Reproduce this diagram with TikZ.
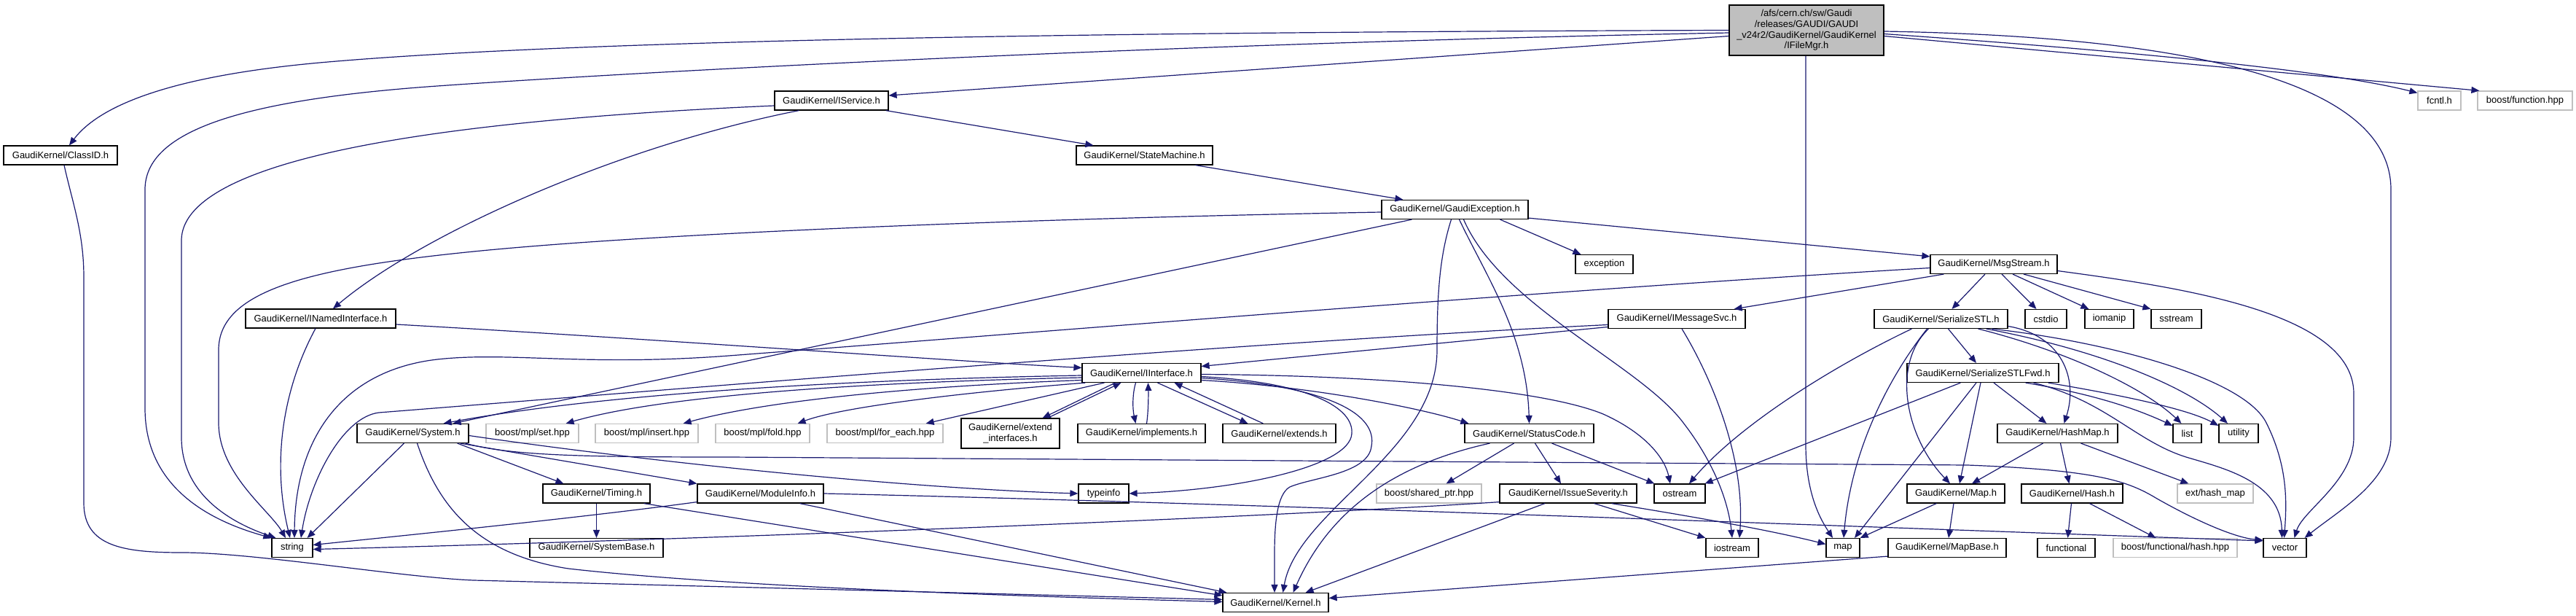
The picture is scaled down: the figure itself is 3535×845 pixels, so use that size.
\documentclass[tikz,border=0pt]{standalone}
\usepackage{fontspec}
\setmainfont{Liberation Sans}
\usetikzlibrary{arrows.meta,calc}
\definecolor{edgecol}{HTML}{191970}
\definecolor{graycol}{HTML}{BFBFBF}
\newcommand\gkfont{\fontsize{6.5pt}{7.35pt}\selectfont}
\begin{document}
\begin{tikzpicture}[x=0.5pt,y=-0.5pt,
  box/.style={draw=black, fill=white, line width=0.6pt, inner sep=0pt, minimum height=13pt, font=\gkfont, align=center},
  gbox/.style={box, draw=graycol},
  bw/.style={minimum width=#1*0.5pt},
  edge/.style={draw=edgecol, line width=0.6pt, -{Triangle[length=5.5pt,width=4.5pt]}}]
\fill[white] (0,0) rectangle (3535,845);
\useasboundingbox (0,0) rectangle (3535,845);
% nodes
\node[box,bw=212,minimum height=34.5pt,fill=graycol] (top) at (2479,41.5) {/afs/cern.ch/sw/Gaudi\\/releases/GAUDI/GAUDI\\\_v24r2/GaudiKernel/GaudiKernel\\/IFileMgr.h};
\node[box,bw=156] (classid) at (83,213) {GaudiKernel/ClassID.h};
\node[box,bw=156] (iservice) at (1141,138) {GaudiKernel/IService.h};
\node[box,bw=187] (statem) at (1570.5,213) {GaudiKernel/StateMachine.h};
\node[box,bw=201] (gexc) at (1996.5,287.5) {GaudiKernel/GaudiException.h};
\node[box,bw=79] (exc) at (2201.5,362.5) {exception};
\node[box,bw=174] (msgs) at (2736,362.5) {GaudiKernel/MsgStream.h};
\node[box,bw=206] (inamed) at (440,437) {GaudiKernel/INamedInterface.h};
\node[box,bw=188] (imsg) at (2301,437.5) {GaudiKernel/IMessageSvc.h};
\node[box,bw=183] (sstl) at (2663.5,437.5) {GaudiKernel/SerializeSTL.h};
\node[box,bw=57] (cstdio) at (2807.5,437.5) {cstdio};
\node[box,bw=67] (iomanip) at (2894.5,437.5) {iomanip};
\node[box,bw=69] (sstream) at (2986.5,437.5) {sstream};
\node[box,bw=163] (iintf) at (1566.5,511.5) {GaudiKernel/IInterface.h};
\node[box,bw=208] (sfwd) at (2721,511.5) {GaudiKernel/SerializeSTLFwd.h};
\node[box,bw=153] (system) at (566.5,594.5) {GaudiKernel/System.h};
\node[gbox,bw=127] (mplset) at (730.5,594.5) {boost/mpl/set.hpp};
\node[gbox,bw=141] (mplins) at (887.5,594.5) {boost/mpl/insert.hpp};
\node[gbox,bw=129] (mplfold) at (1046.5,594.5) {boost/mpl/fold.hpp};
\node[gbox,bw=159] (mplfe) at (1214.5,594.5) {boost/mpl/for\_each.hpp};
\node[box,bw=135,minimum height=20.5pt] (extif) at (1386.5,594.5) {GaudiKernel/extend\\\_interfaces.h};
\node[box,bw=175] (impl) at (1566.5,594.5) {GaudiKernel/implements.h};
\node[box,bw=155] (extends) at (1755.5,594.5) {GaudiKernel/extends.h};
\node[box,bw=177] (stcode) at (2098.5,594.5) {GaudiKernel/StatusCode.h};
\node[box,bw=165] (hashmap) at (2823.5,594.5) {GaudiKernel/HashMap.h};
\node[box,bw=39] (list) at (3001.5,594.5) {list};
\node[box,bw=54] (utility) at (3072,594.5) {utility};
\node[box,bw=147] (timing) at (818.5,677) {GaudiKernel/Timing.h};
\node[box,bw=173] (modinfo) at (1043.5,677) {GaudiKernel/ModuleInfo.h};
\node[box,bw=69] (typeinfo) at (1514.5,677) {typeinfo};
\node[gbox,bw=144] (shptr) at (1961,677) {boost/shared\_ptr.hpp};
\node[box,bw=188] (issue) at (2152,677) {GaudiKernel/IssueSeverity.h};
\node[box,bw=70] (ostream) at (2305,677) {ostream};
\node[box,bw=134] (mapH) at (2684,677) {GaudiKernel/Map.h};
\node[box,bw=139] (hashH) at (2843.5,677) {GaudiKernel/Hash.h};
\node[gbox,bw=104] (exthm) at (3040,677) {ext/hash\_map};
\node[box,bw=56] (string) at (401,751.5) {string};
\node[box,bw=183] (sysbase) at (818.5,751.5) {GaudiKernel/SystemBase.h};
\node[box,bw=72] (iostream) at (2377,751.5) {iostream};
\node[box,bw=46] (map) at (2529,751.5) {map};
\node[box,bw=162] (mapbase) at (2672,751.5) {GaudiKernel/MapBase.h};
\node[box,bw=79] (functional) at (2835.5,751.5) {functional};
\node[gbox,bw=170] (bfhash) at (2985,751.5) {boost/functional/hash.hpp};
\node[box,bw=59] (vector) at (3135.5,751.5) {vector};
\node[box,bw=145] (kernel) at (1750.5,826.5) {GaudiKernel/Kernel.h};
\node[gbox,bw=59] (fcntl) at (3347.5,138) {fcntl.h};
\node[gbox,bw=130] (bfunc) at (3465,138) {boost/function.hpp};
% edges from IFileMgr.h
\draw[edge] (top.west) .. controls (1500,44) and (800,55) .. (450,85) .. controls (250,102) and (140,140) .. ($(classid.north)+(12,0)$);
\draw[edge] ($(top.west)+(0,3.5)$) .. controls (1600,60) and (900,97) .. (600,118) .. controls (330,137) and (199,180) .. (199,260) -- (199,560) .. controls (199,670) and (290,715) .. (string.north west);
\draw[edge] ($(top.west)+(0,8)$) -- ($(iservice.east)+(0,-7)$);
\draw[edge] ($(top.south)+(-1,0)$) -- (2478,610) .. controls (2478,680) and (2500,715) .. ($(map.north)+(-14,0)$);
\draw[edge] ($(top.east)+(0,1.5)$) .. controls (3000,50) and (3281,110) .. (3281,260) -- (3281,600) .. controls (3281,660) and (3210,700) .. ($(vector.north east)+(-3,0)$);
\draw[edge] ($(top.east)+(0,5)$) .. controls (2950,72) and (3200,98) .. ($(fcntl.north west)+(0,3)$);
\draw[edge] ($(top.east)+(0,8)$) -- ($(bfunc.north west)+(3,0)$);
% ClassID
\draw[edge] ($(classid.south)+(5,0)$) .. controls (100,280) and (115,320) .. (115,380) -- (115,690) .. controls (115,750) and (170,758) .. (250,758) .. controls (350,758) and (550,792) .. (650,796) -- ($(kernel.west)+(0,-4)$);
% IService
\draw[edge] ($(iservice.west)+(0,7)$) .. controls (720,160) and (249,200) .. (249,330) -- (249,600) .. controls (249,680) and (320,718) .. ($(string.north west)+(6,0)$);
\draw[edge] ($(iservice.south west)+(34,0)$) .. controls (850,200) and (580,320) .. ($(inamed.north)+(17,0)$);
\draw[edge] ($(iservice.south east)+(-4,0)$) -- ($(statem.north west)+(24,0)$);
% StateMachine
\draw[edge] ($(statem.south)+(70,0)$) -- ($(gexc.north west)+(30,0)$);
% GaudiException
\draw[edge] ($(gexc.west)+(0,3.5)$) .. controls (1400,300) and (900,320) .. (650,345) .. controls (420,368) and (300,400) .. (300,480) -- (300,580) .. controls (300,650) and (370,700) .. ($(string.north)+(-9,0)$);
\draw[edge] ($(gexc.south west)+(42,0)$) -- ($(system.north east)+(-22,0)$);
\draw[edge] ($(gexc.south)+(62,0)$) -- ($(exc.north west)+(8,0)$);
\draw[edge] ($(gexc.south east)+(0,-2)$) -- ($(msgs.north west)+(0,3)$);
\draw[edge] ($(gexc.south)+(-5,0)$) .. controls (1976,350) and (1972,400) .. (1972,480) .. controls (1972,620) and (1780,700) .. ($(kernel.north)+(10,0)$);
\draw[edge] ($(gexc.south)+(6,0)$) .. controls (2040,380) and (2095,460) .. (stcode.north);
\draw[edge] ($(gexc.south)+(12,0)$) .. controls (2060,420) and (2250,500) .. (2310,580) .. controls (2360,645) and (2373,700) .. (iostream.north);
% MsgStream
\draw[edge] ($(msgs.west)+(0,5)$) .. controls (2100,400) and (1500,450) .. (1000,488) .. controls (800,503) and (700,482) .. (600,493) .. controls (470,508) and (405,600) .. ($(string.north)+(3,0)$);
\draw[edge] ($(msgs.south west)+(19,0)$) -- ($(imsg.north east)+(-16,0)$);
\draw[edge] ($(msgs.south)+(-12,0)$) -- ($(sstl.north)+(15,0)$);
\draw[edge] ($(msgs.south)+(11,0)$) -- ($(cstdio.north)+(-13,0)$);
\draw[edge] ($(msgs.south)+(26,0)$) -- ($(iomanip.north west)+(6,0)$);
\draw[edge] ($(msgs.south)+(41,0)$) -- (sstream.north west);
\draw[edge] ($(msgs.east)+(0,9)$) .. controls (3000,395) and (3230,430) .. (3230,540) -- (3230,600) .. controls (3230,660) and (3160,700) .. ($(vector.north)+(13,0)$);
% IMessageSvc
\draw[edge] ($(imsg.west)+(0,8)$) .. controls (1700,470) and (1000,528) .. (520,566) .. controls (470,572) and (425,660) .. ($(string.north)+(12,0)$);
\draw[edge] ($(imsg.west)+(0,11)$) -- ($(iintf.east)+(0,-9)$);
\draw[edge] ($(imsg.south)+(7,0)$) .. controls (2350,520) and (2395,630) .. ($(iostream.north)+(10,0)$);
% INamedInterface
\draw[edge] ($(inamed.south)+(-7,0)$) .. controls (390,530) and (372,630) .. ($(string.north)+(-3,0)$);
\draw[edge] ($(inamed.east)+(0,8)$) .. controls (900,465) and (1300,495) .. ($(iintf.west)+(0,-7)$);
% IInterface
\draw[edge] ($(iintf.west)+(0,3.5)$) .. controls (1100,522) and (800,545) .. ($(system.north east)+(-35,0)$);
\draw[edge] ($(iintf.west)+(0,6.5)$) .. controls (1150,525) and (900,545) .. ($(mplset.north east)+(-18,0)$);
\draw[edge] ($(iintf.west)+(0,10)$) .. controls (1250,530) and (1050,550) .. ($(mplins.north east)+(-21,0)$);
\draw[edge] ($(iintf.south west)+(5,0)$) .. controls (1300,540) and (1150,560) .. ($(mplfold.north east)+(-17,0)$);
\draw[edge] ($(iintf.south west)+(31,0)$) -- ($(mplfe.north east)+(-24,0)$);
\draw[edge] ($(iintf.south west)+(46,0)$) -- ($(extif.north east)+(-24,0)$);
\draw[edge] ($(extif.north east)+(-17,0)$) -- ($(iintf.south west)+(54,0)$);
\draw[edge] ($(iintf.south)+(-8,0)$) .. controls (1554,540) and (1554,560) .. ($(impl.north)+(-8,0)$);
\draw[edge] ($(impl.north)+(7,0)$) .. controls (1576,565) and (1576,540) .. ($(iintf.south)+(9,0)$);
\draw[edge] ($(iintf.south)+(22,0)$) -- ($(extends.north west)+(35,0)$);
\draw[edge] ($(extends.north west)+(56,0)$) -- ($(iintf.south)+(45,0)$);
\draw[edge] ($(iintf.east)+(0,10)$) .. controls (1800,530) and (1950,560) .. ($(stcode.north west)+(6,0)$);
\draw[edge] ($(iintf.east)+(0,2)$) .. controls (1900,515) and (2120,535) .. (2200,568) .. controls (2260,595) and (2285,630) .. ($(ostream.north)+(-13,0)$);
\draw[edge] ($(iintf.east)+(0,5)$) .. controls (1800,525) and (1858,560) .. (1855,595) .. controls (1852,640) and (1700,672) .. (typeinfo.east);
\draw[edge] ($(iintf.east)+(0,7)$) .. controls (1830,530) and (1890,570) .. (1882,612) .. controls (1878,650) and (1800,655) .. (1770,668) .. controls (1752,678) and (1749,720) .. (1749,760) -- ($(kernel.north)+(-1.5,0)$);
% System
\draw[edge] ($(system.south)+(-12,0)$) -- ($(string.north east)+(-8,0)$);
\draw[edge] ($(system.south east)+(-16,0)$) -- ($(timing.north west)+(29,0)$);
\draw[edge] ($(system.south east)+(-12,0)$) -- (modinfo.north west);
\draw[edge] ($(system.south east)+(-5,0)$) .. controls (700,625) and (800,627) .. (1000,627) -- (2700,638) .. controls (2880,645) and (2920,660) .. (2960,684) .. controls (3020,718) and (3070,738) .. ($(vector.north west)+(0,3)$);
\draw[edge] ($(system.east)+(0,3)$) .. controls (900,635) and (1250,670) .. (typeinfo.west);
\draw[edge] ($(system.south)+(6,0)$) .. controls (600,690) and (650,760) .. (780,780) .. controls (1000,805) and (1400,818) .. ($(kernel.west)+(0,-1)$);
% Timing, ModuleInfo
\draw[edge] (timing.south) -- (sysbase.north);
\draw[edge] ($(timing.south east)+(-9,0)$) -- ($(kernel.north west)+(0,4)$);
\draw[edge] ($(modinfo.south east)+(-33,0)$) -- ($(kernel.north west)+(6,0)$);
\draw[edge] ($(modinfo.south west)+(0,-2)$) .. controls (800,710) and (550,735) .. ($(string.east)+(0,-4)$);
\draw[edge] (modinfo.east) .. controls (1700,690) and (2700,728) .. ($(vector.north west)+(0,4)$);
% StatusCode
\draw[edge] ($(stcode.south west)+(35,0)$) .. controls (1900,640) and (1820,710) .. ($(kernel.north)+(24,0)$);
\draw[edge] ($(stcode.south)+(-21,0)$) -- ($(shptr.north east)+(-49,0)$);
\draw[edge] ($(stcode.south)+(8,0)$) -- ($(issue.north)+(-10,0)$);
\draw[edge] ($(stcode.south east)+(-58,0)$) -- ($(ostream.north west)+(1,0)$);
% IssueSeverity
\draw[edge] ($(issue.south)+(-32,0)$) -- ($(kernel.north east)+(-32,0)$);
\draw[edge] ($(issue.south east)+(-59,0)$) -- (iostream.north west);
\draw[edge] ($(issue.south east)+(-35,0)$) .. controls (2300,705) and (2420,725) .. ($(map.west)+(0,-5)$);
\draw[edge] ($(issue.south west)+(0,-2)$) .. controls (1700,712) and (900,742) .. ($(string.east)+(0,2)$);
% SerializeSTL
\draw[edge] ($(sstl.south west)+(52,0)$) .. controls (2500,510) and (2380,590) .. ($(ostream.north)+(13,0)$);
\draw[edge] ($(sstl.south)+(-19,0)$) .. controls (2590,520) and (2540,620) .. ($(map.north)+(1,0)$);
\draw[edge] ($(sstl.south)+(-17,0)$) .. controls (2595,500) and (2615,600) .. ($(mapH.north)+(-8,0)$);
\draw[edge] ($(sstl.south)+(10,0)$) -- ($(sfwd.north)+(-9,0)$);
\draw[edge] ($(sstl.east)+(0,10)$) .. controls (2830,460) and (2852,520) .. ($(hashmap.north)+(9,0)$);
\draw[edge] ($(sstl.south east)+(-41,0)$) .. controls (2830,480) and (2940,530) .. ($(list.north)+(-8,0)$);
\draw[edge] ($(sstl.south east)+(-30,0)$) .. controls (2880,480) and (3000,530) .. ($(utility.north)+(-15,0)$);
\draw[edge] ($(sstl.south east)+(-22,0)$) .. controls (2900,470) and (3080,520) .. (3110,580) .. controls (3140,640) and (3138,690) .. ($(vector.north)+(-1,0)$);
% SerializeSTLFwd
\draw[edge] ($(sfwd.south west)+(74,0)$) -- ($(ostream.north east)+(-1,0)$);
\draw[edge] ($(sfwd.south)+(-9,0)$) -- ($(map.north)+(16,0)$);
\draw[edge] ($(sfwd.south)+(-3,0)$) -- ($(mapH.north)+(5,0)$);
\draw[edge] ($(sfwd.south)+(15,0)$) -- ($(hashmap.north)+(-15,0)$);
\draw[edge] ($(sfwd.south east)+(-46,0)$) .. controls (2870,540) and (2930,560) .. ($(list.north west)+(0,3)$);
\draw[edge] ($(sfwd.south east)+(-15,0)$) .. controls (2900,540) and (3000,560) .. ($(utility.north west)+(0,3)$);
\draw[edge] ($(sfwd.south east)+(-35,0)$) .. controls (2890,550) and (2930,605) .. (3000,627) .. controls (3050,642) and (3130,660) .. ($(vector.north)+(-4,0)$);
% HashMap, Map, Hash, MapBase
\draw[edge] ($(hashmap.south)+(-20,0)$) -- ($(mapH.north)+(22,0)$);
\draw[edge] ($(hashmap.south)+(4,0)$) -- ($(hashH.north)+(-4,0)$);
\draw[edge] ($(hashmap.south east)+(-51,0)$) -- ($(exthm.north west)+(16,0)$);
\draw[edge] ($(mapH.south west)+(41,0)$) -- (map.north east);
\draw[edge] ($(mapH.south)+(-3,0)$) -- ($(mapbase.north)+(2,0)$);
\draw[edge] ($(hashH.south)+(-1,0)$) -- ($(functional.north)+(2,0)$);
\draw[edge] ($(hashH.south)+(24,0)$) -- ($(bfhash.north west)+(59,0)$);
\draw[edge] ($(mapbase.south west)+(0,-2)$) -- ($(kernel.east)+(0,-6)$);
\end{tikzpicture}
\end{document}
